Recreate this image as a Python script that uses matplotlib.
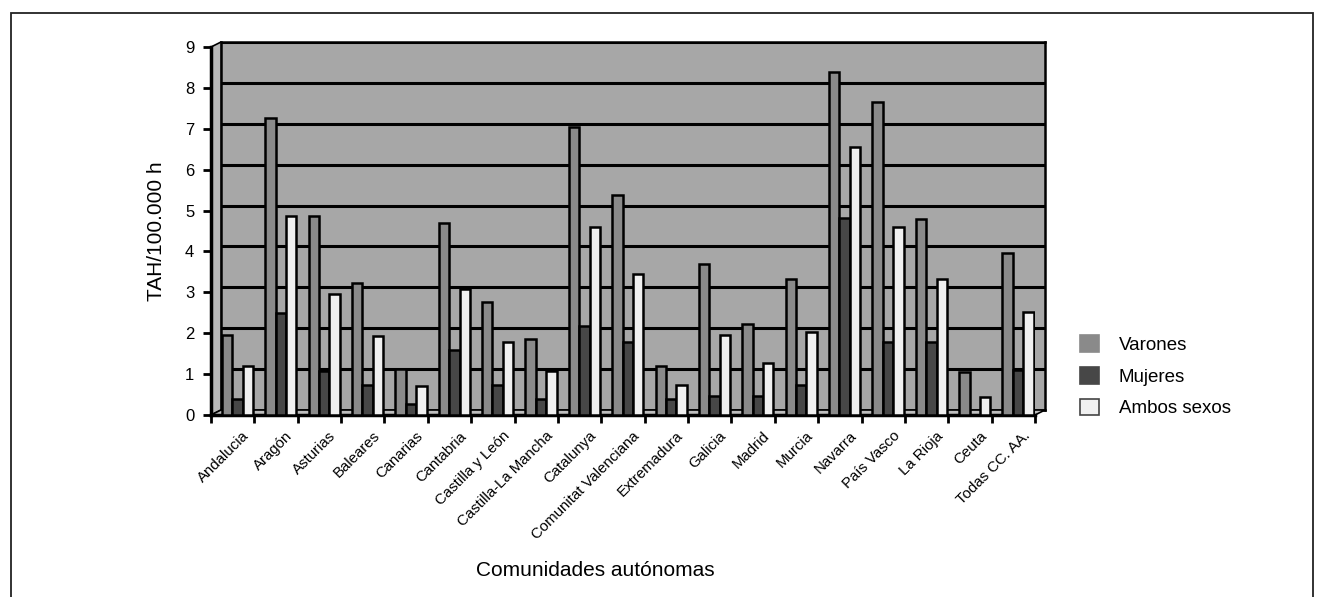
import matplotlib
matplotlib.use("Agg")
import matplotlib.pyplot as plt
from matplotlib.patches import Polygon, Rectangle
import numpy as np

plt.rcParams['font.family'] = ['Liberation Sans', 'DejaVu Sans']

categories = ["Andalucia", "Aragón", "Asturias", "Baleares", "Canarias", "Cantabria",
              "Castilla y León", "Castilla-La Mancha", "Catalunya", "Comunitat Valenciana",
              "Extremadura", "Galicia", "Madrid", "Murcia", "Navarra", "País Vasco",
              "La Rioja", "Ceuta", "Todas CC. AA."]
varones = [1.95, 7.27, 4.87, 3.24, 1.13, 4.70, 2.76, 1.87, 7.05, 5.37,
           1.20, 3.69, 2.23, 3.32, 8.39, 7.66, 4.80, 1.05, 3.97]
mujeres = [0.40, 2.49, 1.08, 0.73, 0.28, 1.58, 0.73, 0.40, 2.17, 1.78,
           0.40, 0.46, 0.46, 0.73, 4.83, 1.78, 1.78, 0.00, 1.09]
ambos = [1.20, 4.87, 2.96, 1.92, 0.70, 3.08, 1.78, 1.08, 4.60, 3.46,
         0.73, 1.95, 1.27, 2.03, 6.55, 4.60, 3.32, 0.45, 2.51]
series_names = ["Varones", "Mujeres", "Ambos sexos"]
yticks = list(range(0, 10))

W, H = 1321, 597
fig = plt.figure(figsize=(W / 100, H / 100), dpi=100)

def fr(x0, y0, x1, y1):
    return [x0 / W, 1 - y1 / H, (x1 - x0) / W, (y1 - y0) / H]

def P(x, y):
    return (x / W, 1 - y / H)

# outer frame
fig.add_artist(Rectangle((11 / W, -0.1), (1313 - 11) / W, 1 - 13 / H + 0.1,
                         transform=fig.transFigure, fill=False, lw=1.3, ec='#222222'))

dx, dy = 10, 5
fx0, fy0, fx1, fy1 = 211, 47, 1035, 415

wall_color = '#a7a7a7'
side = Polygon([P(fx0, fy1), P(fx0, fy0), P(fx0 + dx, fy0 - dy), P(fx0 + dx, fy1 - dy)],
               closed=True, transform=fig.transFigure, fc='#b9b9b9', ec='black', lw=1.2, zorder=1)
floor = Polygon([P(fx0, fy1), P(fx1, fy1), P(fx1 + dx, fy1 - dy), P(fx0 + dx, fy1 - dy)],
                closed=True, transform=fig.transFigure, fc='#bdbdbd', ec='black', lw=1.2, zorder=1)
fig.add_artist(side)
fig.add_artist(floor)

axb = fig.add_axes(fr(fx0 + dx, fy0 - dy, fx1 + dx, fy1 - dy))
axb.set_facecolor(wall_color)
axb.set_xlim(0, len(categories))
axb.set_ylim(0, 9)
axb.set_xticks([])
axb.set_yticks(yticks[1:])
axb.tick_params(left=False, labelleft=False)
axb.yaxis.grid(True, color='black', lw=2.2)
axb.set_axisbelow(True)
for s in axb.spines.values():
    s.set_linewidth(1.8)
axb.set_zorder(0)

ax = fig.add_axes(fr(fx0, fy0, fx1, fy1))
ax.set_facecolor('none')
ax.set_zorder(2)
ax.set_xlim(0, len(categories))
ax.set_ylim(0, 9)

x = np.arange(len(categories))
bw = 0.24
offs = [0.37, 0.61, 0.85]
colors = ['#8a8a8a', '#474747', '#f0f0f0']
data = [varones, mujeres, ambos]
handles = []
for k in range(3):
    b = ax.bar(x + offs[k], data[k], width=bw, color=colors[k], edgecolor='black',
               linewidth=1.8, label=series_names[k], zorder=3)
    handles.append(b)

for side_name in ['top', 'right']:
    ax.spines[side_name].set_visible(False)
ax.spines['left'].set_linewidth(2.5)
ax.spines['bottom'].set_linewidth(2.5)

ax.set_yticks(yticks)
ax.set_yticklabels([str(v) for v in yticks], fontsize=12)
ax.tick_params(axis='y', direction='out', length=6, width=2, pad=6)
ax.set_xticks(np.arange(len(categories) + 1))
ax.set_xticklabels([])
ax.tick_params(axis='x', which='major', direction='out', length=6, width=2)
ax.set_xticks(x + 0.72, minor=True)
ax.set_xticklabels(categories, minor=True, rotation=45, ha='right',
                   rotation_mode='anchor', fontsize=10.8)
ax.tick_params(axis='x', which='minor', length=0, pad=10)

ax.set_ylabel("TAH/100.000 h", fontsize=15, labelpad=14)
fig.text(595 / W, 1 - 570 / H, "Comunidades autónomas", ha='center', va='center', fontsize=15)

leg = fig.legend(handles=handles, labels=series_names, loc='upper left',
                 bbox_to_anchor=(1071 / W, 1 - 326 / H), frameon=False, fontsize=13.5,
                 borderpad=0, handlelength=1.0, handleheight=1.0, labelspacing=0.68,
                 handletextpad=1.05)
edge_cols = ['#8a8a8a', '#474747', '#444444']
for h, ec in zip(leg.legend_handles, edge_cols):
    h.set_linewidth(1.2)
    h.set_edgecolor(ec)

fig.savefig("out.png", dpi=100)
